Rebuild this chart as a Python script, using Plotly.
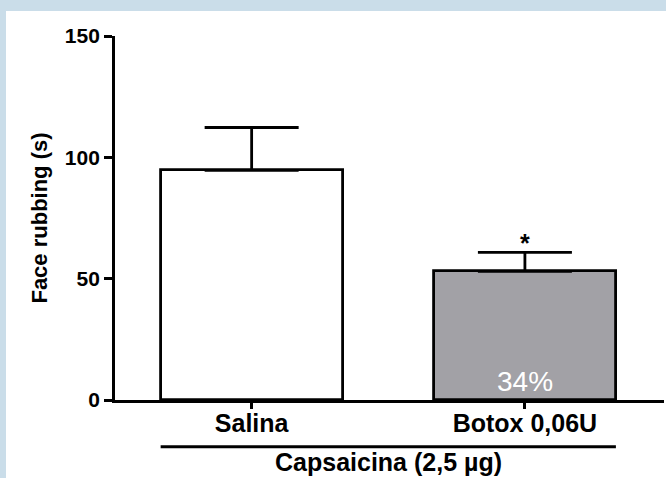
import plotly.graph_objects as go

categories = ["Salina", "Botox 0,06U"]
means = [94.6, 53.0]
sem = [17.7, 7.8]
fill_colors = ["#ffffff", "#a2a1a6"]
y_ticks = [0, 50, 100, 150]
group_label = "Capsaicina (2,5 µg)"
percent_label = "34%"
star_label = "*"

FONT = "Liberation Sans, Arial, sans-serif"
BAR_W = 0.666

# plot area in pixels
L, R, T, B = 115, 2, 36, 78
W, H = 666, 478
pw = W - L - R
ph = H - T - B

def px_x(p):
    return (p - L) / pw

def px_y(p):
    return (H - B - p) / ph

fig = go.Figure()
fig.add_trace(go.Bar(
    x=list(range(len(categories))),
    y=means,
    width=BAR_W,
    marker=dict(color=fill_colors, line=dict(color="black", width=2.8)),
    error_y=dict(type="data", symmetric=False, array=sem, arrayminus=[0] * len(sem),
                 color="black", thickness=2.8, width=47),
    showlegend=False,
))

fig.update_layout(
    width=W, height=H,
    margin=dict(l=L, r=R, t=T, b=B, pad=0),
    paper_bgcolor="#cadde9",
    plot_bgcolor="white",
    font=dict(family=FONT, color="black"),
    bargap=0,
    shapes=[
        dict(type="rect", xref="paper", yref="paper", layer="below",
             x0=px_x(6), x1=px_x(W + 5), y0=px_y(H + 5), y1=px_y(11),
             fillcolor="white", line=dict(width=0)),
        dict(type="line", xref="x", yref="paper",
             x0=-BAR_W / 2, x1=len(categories) - 1 + BAR_W / 2,
             y0=px_y(446.7), y1=px_y(446.7),
             line=dict(color="black", width=3)),
    ],
    annotations=[
        dict(x=(len(categories) - 1) / 2, xref="x", y=px_y(462), yref="paper",
             text=f"<b>{group_label}</b>", showarrow=False,
             font=dict(size=25, family=FONT, color="black"), yanchor="middle"),
        dict(x=1, xref="x", y=0, yref="y", yshift=19, text=percent_label,
             showarrow=False, yanchor="middle",
             font=dict(size=28, family=FONT, color="white")),
        dict(x=1, xref="x", y=means[1] + sem[1], yref="y", yshift=-7,
             text=f"<b>{star_label}</b>", showarrow=False, yanchor="bottom",
             font=dict(size=25, family=FONT, color="black")),
    ],
)

fig.update_xaxes(
    range=[-0.5, 1.509],
    tickvals=list(range(len(categories))),
    ticktext=[f"<b>{c}</b>" for c in categories],
    tickfont=dict(size=25, family=FONT, color="black"),
    ticklabelstandoff=-7,
    showline=True, linecolor="black", linewidth=2.8,
    ticks="outside", ticklen=6, tickwidth=2.8, tickcolor="black",
    showgrid=False, zeroline=False,
)
fig.update_yaxes(
    range=[0, 150],
    tickvals=y_ticks,
    ticktext=[f"<b>{v}</b>" for v in y_ticks],
    tickfont=dict(size=21, family=FONT, color="black"),
    showline=True, linecolor="black", linewidth=2.8,
    ticks="outside", ticklen=8, tickwidth=2.8, tickcolor="black",
    showgrid=False, zeroline=False,
    title=dict(text="<b>Face rubbing (s)</b>", standoff=12,
               font=dict(size=22, family=FONT, color="black")),
)

fig.write_html(
    "out.html",
    config={"displayModeBar": False},
    post_script="document.body.style.margin='0';document.body.style.overflow='hidden';",
)
